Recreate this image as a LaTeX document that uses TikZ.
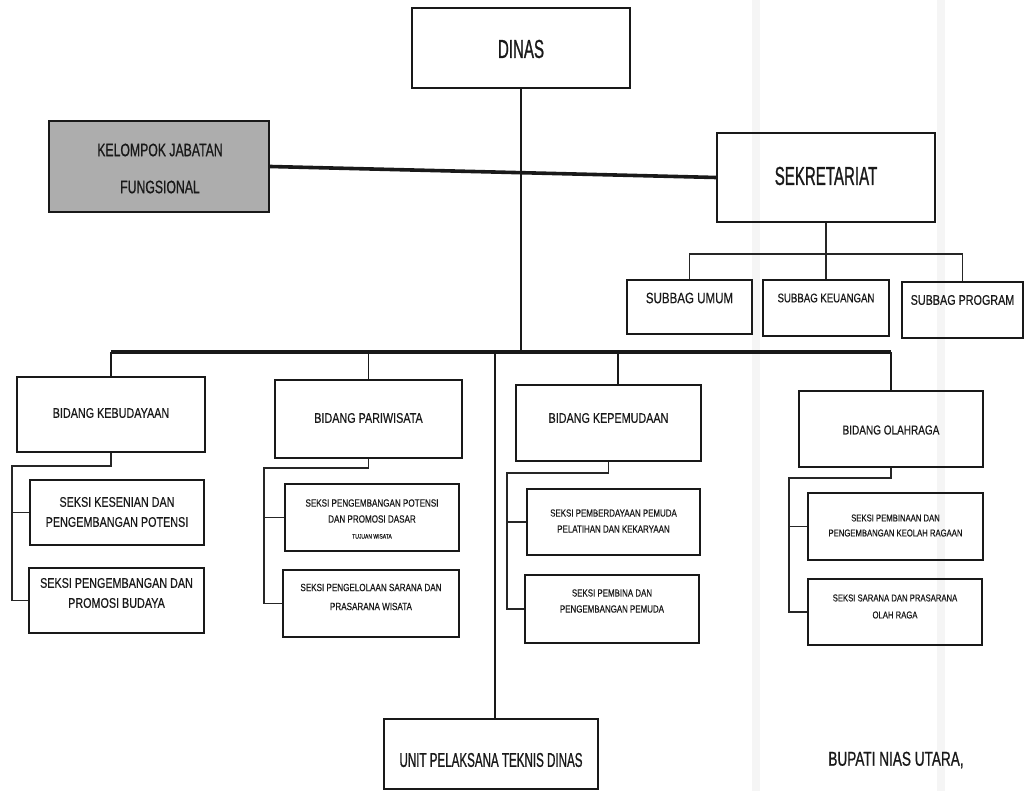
\documentclass[tikz,border=0pt]{standalone}
\usepackage{fontspec}
\setmainfont{Liberation Sans}
\newfontfamily\nA[FakeStretch=0.58,FakeBold=0.8]{Liberation Sans}
\newfontfamily\nB[FakeStretch=0.68,FakeBold=0.8]{Liberation Sans}
\newfontfamily\nC[FakeStretch=0.77,FakeBold=0.4]{Liberation Sans}
% unit box: name, x1, y1, x2, y2, text centre y, font, text
\newcommand{\unitbox}[8]{%
  \node[unit, minimum width={(#4-#2)*1pt}, minimum height={(#5-#3)*1pt}] (#1) at ({(#2+#4)/2},{(#3+#5)/2}) {};
  \node[lbl, font=#7] (#1-t) at ({(#2+#4)/2},#6) {#8};}
\begin{document}
\begin{tikzpicture}[x=1pt,y=-1pt,
  unit/.style={draw=black!90, line width=1.7pt, rectangle, inner sep=0pt},
  lbl/.style={align=center, inner sep=0pt, text=black!90},
  trunk/.style={line width=3.6pt, draw=black!90},
  drop/.style={line width=1.8pt, draw=black!90},
  branch/.style={line width=1.1pt, draw=black!85},
  band/.style={fill=black!4}]
\useasboundingbox (0,0) rectangle (1029,791);
\fill[white] (0,0) rectangle (1029,791);
% faint vertical bands of the scanned sheet
\fill[band] (752,0) rectangle (760,791);
\fill[band] (937,0) rectangle (945,791);

% top level
\unitbox{dinas}{412}{8}{630}{88}{49}{\nA\fontsize{26}{30}\selectfont}{DINAS}
\node[unit, fill=black!32, line width=2.2pt, minimum width=220pt, minimum height=91pt] (kjf) at (159,166.5) {};
\node[lbl, font=\nB\fontsize{18}{37}\selectfont] (kjf-t) at (160,168.5) {KELOMPOK JABATAN\\FUNGSIONAL};
\unitbox{sek}{717}{133}{935}{222}{176}{\nA\fontsize{26}{30}\selectfont}{SEKRETARIAT}

% sub-sections of the secretariat
\unitbox{umum}{627}{280}{752}{334}{298}{\nC\fontsize{15}{18}\selectfont}{SUBBAG UMUM}
\unitbox{keu}{763}{280}{889}{336}{298}{\nC\fontsize{12.5}{15}\selectfont}{SUBBAG KEUANGAN}
\unitbox{prog}{902}{282}{1023}{338}{300}{\nC\fontsize{14}{17}\selectfont}{SUBBAG PROGRAM}

% divisions
\unitbox{keb}{17}{377}{205}{452}{413}{\nC\fontsize{14}{17}\selectfont}{BIDANG KEBUDAYAAN}
\unitbox{par}{275}{380}{462}{458}{418}{\nC\fontsize{14}{17}\selectfont}{BIDANG PARIWISATA}
\unitbox{kep}{516}{385}{701}{461}{418}{\nC\fontsize{14}{17}\selectfont}{BIDANG KEPEMUDAAN}
\unitbox{olr}{799}{391}{983}{467}{430}{\nC\fontsize{13}{16}\selectfont}{BIDANG OLAHRAGA}

% sections
\unitbox{kebA}{30}{480}{204}{545}{512}{\nC\fontsize{14}{20}\selectfont}{SEKSI KESENIAN DAN\\PENGEMBANGAN POTENSI}
\unitbox{kebB}{29}{568}{204}{633}{593}{\nC\fontsize{14}{20}\selectfont}{SEKSI PENGEMBANGAN DAN\\PROMOSI BUDAYA}
\unitbox{parA}{285}{484}{459}{551}{519}{\nC\fontsize{10.5}{16}\selectfont}{SEKSI PENGEMBANGAN POTENSI\\DAN PROMOSI DASAR\\{\fontsize{6.5}{8}\selectfont TUJUAN WISATA}}
\unitbox{parB}{283}{570}{459}{637}{597}{\nC\fontsize{10.5}{19}\selectfont}{SEKSI PENGELOLAAN SARANA DAN\\PRASARANA WISATA}
\unitbox{kepA}{527}{489}{700}{555}{521}{\nC\fontsize{10.3}{16}\selectfont}{SEKSI PEMBERDAYAAN PEMUDA\\PELATIHAN DAN KEKARYAAN}
\unitbox{kepB}{525}{575}{699}{643}{601}{\nC\fontsize{10.3}{16}\selectfont}{SEKSI PEMBINA DAN\\PENGEMBANGAN PEMUDA}
\unitbox{olrA}{808}{493}{983}{560}{525.5}{\nC\fontsize{10}{15}\selectfont}{SEKSI PEMBINAAN DAN\\PENGEMBANGAN KEOLAH RAGAAN}
\unitbox{olrB}{808}{579}{982}{645}{606.5}{\nC\fontsize{10}{17}\selectfont}{SEKSI SARANA DAN PRASARANA\\OLAH RAGA}

% technical unit and signature
\unitbox{upt}{384}{719}{598}{789}{760}{\nA\fontsize{20}{24}\selectfont}{UNIT PELAKSANA TEKNIS DINAS}
\node[lbl, font=\nB\fontsize{20}{24}\selectfont] (bupati) at (896,760) {BUPATI NIAS UTARA,};

% bus coordinates
\coordinate (busL) at (111,352);
\coordinate (busR) at (891,352);
\coordinate (kepdrop) at (618,352);
\coordinate (uptbus) at (495,352);
\coordinate (sbus) at (826,254);

% main lines
\draw[drop] (dinas.south) -- (dinas.south |- busL);
\draw[trunk] (kjf.east) -- (sek.west);
\draw[trunk] (busL) -- (busR);
\draw[drop] (busL) -- (keb.north);
\draw[drop] (par.north |- busL) -- (par.north);
\draw[drop] (kepdrop) -- (kepdrop |- kep.north);
\draw[drop] (busR) -- (olr.north);
\draw[drop] (uptbus) -- (uptbus |- upt.north);

% secretariat
\draw[branch] (sek.south) -- (keu.north);
\draw[branch] (umum.north) |- (sbus) -| (prog.north);

% sections under each division
\coordinate (kebL) at (12,466);
\draw[branch] (keb.south) |- (kebL) |- (kebB.west);
\draw[branch] (kebL |- kebA.west) -- (kebA.west);
\coordinate (parL) at (264,468);
\draw[branch] (par.south) |- (parL) |- (parB.west);
\draw[branch] (parL |- parA.west) -- (parA.west);
\coordinate (kepL) at (507,473);
\draw[branch] (kep.south) |- (kepL) |- (kepB.west);
\draw[branch] (kepL |- kepA.west) -- (kepA.west);
\coordinate (olrL) at (789,478);
\draw[branch] (olr.south) |- (olrL) |- (olrB.west);
\draw[branch] (olrL |- olrA.west) -- (olrA.west);
\end{tikzpicture}
\end{document}
